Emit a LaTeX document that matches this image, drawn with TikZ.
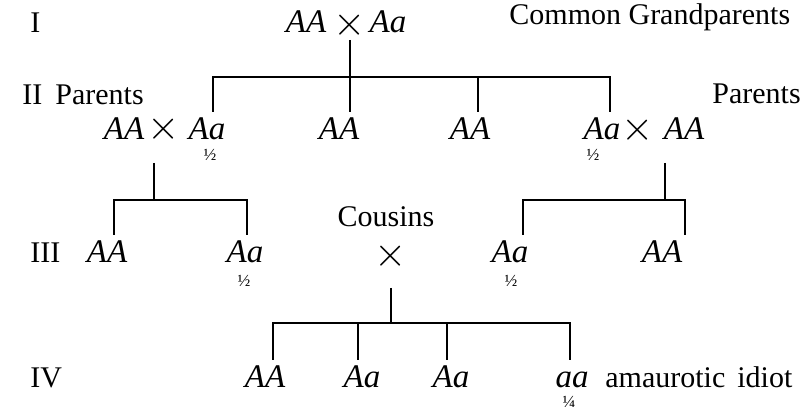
\documentclass[tikz,border=0pt]{standalone}
\usepackage{fontspec}
\setmainfont{Liberation Serif}
\usetikzlibrary{positioning}

\newcommand\pedfont{\fontsize{15}{18}\selectfont}

\tikzset{
  gt/.style={font=\fontsize{16.5}{19}\selectfont\itshape, anchor=base, inner sep=3pt, text height=11pt},
  cross/.style={font=\fontsize{20}{24}\selectfont, anchor=base, inner sep=0pt},
  tag/.style={font=\pedfont, anchor=base west, inner sep=0pt},
  frac/.style={font=\fontsize{8.5}{9}\selectfont, inner sep=0pt},
  tree/.style={line width=1pt},
}

\begin{document}
\begin{tikzpicture}[x=0.5pt,y=-0.5pt]
\useasboundingbox (0,0) rectangle (805,411);

% generation labels
\node[tag] (lI)   at (30,33)  {I};
\node[tag] (lII)  at (22,105) {II};
\node[tag] (lpl)  at (55,105) {Parents};
\node[tag] (lgp)  at (509,25) {Common Grandparents};
\node[tag] (lpr)  at (712,104) {Parents};
\node[tag] (lIII) at (30,263) {III};
\node[tag] (lIV)  at (30,388) {IV};
\node[tag, anchor=base] (lcs) at (386,227) {Cousins};
\node[tag] (lid)  at (605,388) {amaurotic\hspace{6pt}idiot};

% I
\node[gt] (g1) at (306,33) {AA};
\node[cross] (gx) at (350,36) {$\times$};
\node[gt] (g2) at (388,33) {Aa};

% II
\node[gt] (pa) at (124,140) {AA};
\node[cross] (pax) at (164,140) {$\times$};
\node[gt] (pb) at (207,140) {Aa};
\node[gt] (q)  at (339,140) {AA};
\node[gt] (r)  at (470,140) {AA};
\node[gt] (sa) at (602,140) {Aa};
\node[cross] (sx) at (638,141) {$\times$};
\node[gt] (sb) at (684,140) {AA};
\node[frac] (h1) at (210,155) {½};
\node[frac] (h2) at (593,155) {½};

% III
\node[gt] (ca) at (107,263) {AA};
\node[gt] (cb) at (245,263) {Aa};
\node[cross] (kx) at (391,267) {$\times$};
\node[gt] (da) at (510,263) {Aa};
\node[gt] (db) at (662,263) {AA};
\node[frac] (h3) at (244,281) {½};
\node[frac] (h4) at (511,281) {½};

% IV
\node[gt] (k1) at (265,388) {AA};
\node[gt] (k2) at (362,388) {Aa};
\node[gt] (k3) at (451,388) {Aa};
\node[gt] (k4) at (572,388) {aa};
\node[frac] (h5) at (569,402) {¼};

% bars
\coordinate (b1) at (350,77);
\coordinate (t2) at (154,163);
\coordinate (b2) at (154,200);
\coordinate (t3) at (665,163);
\coordinate (b3) at (665,200);
\coordinate (t4) at (391,288);
\coordinate (b4) at (391,323);

\draw[tree] (gx.south) -- (b1);
\draw[tree] ([xshift=3pt]pb.north) |- (b1) -| ([xshift=4pt]sa.north);
\draw[tree] ([xshift=5.5pt]q.north) |- (b1);
\draw[tree] ([xshift=4pt]r.north) |- (b1);

\draw[tree] (t2) -- (b2);
\draw[tree] ([xshift=3.5pt]ca.north) |- (b2) -| ([xshift=1pt]cb.north);

\draw[tree] (t3) -- (b3);
\draw[tree] ([xshift=6.5pt]da.north) |- (b3) -| ([xshift=11.5pt]db.north);

\draw[tree] (t4) -- (b4);
\draw[tree] ([xshift=4pt]k1.north) |- (b4) -| ([xshift=-1pt]k4.north);
\draw[tree] ([xshift=-2pt]k2.north) |- (b4);
\draw[tree] ([xshift=-2pt]k3.north) |- (b4);
\end{tikzpicture}
\end{document}
